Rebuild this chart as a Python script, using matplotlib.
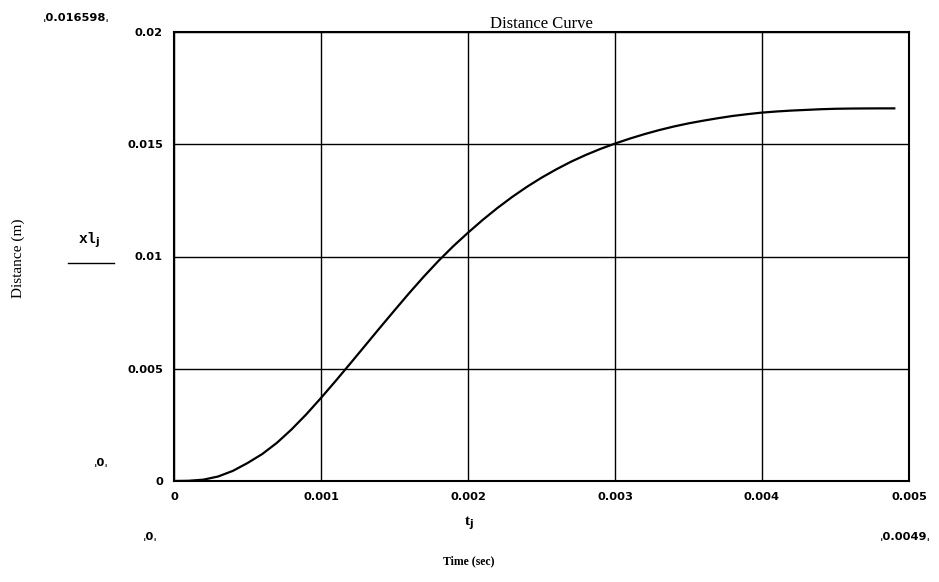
import numpy as np
import matplotlib.pyplot as plt

# time (sec) and distance (m)
t = [0, 0.0001, 0.0002, 0.0003, 0.0004, 0.0005, 0.0006, 0.0007, 0.0008, 0.0009,
     0.001, 0.0011, 0.0012, 0.0013, 0.0014, 0.0015, 0.0016, 0.0017, 0.0018, 0.0019,
     0.002, 0.0021, 0.0022, 0.0023, 0.0024, 0.0025, 0.0026, 0.0027, 0.0028, 0.0029,
     0.003, 0.0031, 0.0032, 0.0033, 0.0034, 0.0035, 0.0036, 0.0037, 0.0038, 0.0039,
     0.004, 0.0041, 0.0042, 0.0043, 0.0044, 0.0045, 0.0046, 0.0047, 0.0048, 0.0049]
xl = [0, 0.00001, 0.00006, 0.0002, 0.00045, 0.0008, 0.0012, 0.0017, 0.0023, 0.00297,
      0.0037, 0.00446, 0.00524, 0.00603, 0.00682, 0.0076, 0.00837, 0.00911, 0.00981, 0.01046,
      0.01106, 0.01163, 0.01216, 0.01265, 0.0131, 0.01351, 0.01388, 0.01422, 0.01452, 0.01479,
      0.01503, 0.01525, 0.01545, 0.01563, 0.01579, 0.01593, 0.01605, 0.01616, 0.01626, 0.01634,
      0.01641, 0.01646, 0.0165, 0.01653, 0.01656, 0.01658, 0.01659, 0.016595, 0.016598, 0.016598]
xticks = [0, 0.001, 0.002, 0.003, 0.004, 0.005]
xticklabels = ['0', '0.001', '0.002', '0.003', '0.004', '0.005']
yticks = [0, 0.005, 0.01, 0.015, 0.02]
yticklabels = ['0', '0.005', '0.01', '0.015', '0.02']

fig = plt.figure(figsize=(9.39, 5.82), dpi=100)
ax = fig.add_axes([174/939, 101/582, 735/939, 449/582])
ax.plot(t, xl, color='black', lw=1.6)
ax.set_xlim(0, 0.005)
ax.set_ylim(0, 0.02)
ax.set_xticks(xticks)
ax.set_xticklabels(xticklabels)
ax.set_yticks(yticks)
ax.set_yticklabels(yticklabels)
ax.grid(True, color='black', lw=1.0)
ax.tick_params(length=0, pad=8, labelsize=8.2)
for lab in ax.get_xticklabels() + ax.get_yticklabels():
    lab.set_fontweight('bold')
for s in ax.spines.values():
    s.set_linewidth(1.5)
ax.set_title('Distance Curve', family='Liberation Serif', fontsize=12, pad=3)

bold = dict(fontsize=8.2, fontweight='bold')
fig.text(76/939, 1 - 18/582, 'ˌ0.016598ˌ', ha='center', va='center', **bold)
fig.text(101/939, 1 - 463/582, 'ˌ0ˌ', ha='center', va='center', **bold)
fig.text(150/939, 1 - 537/582, 'ˌ0ˌ', ha='center', va='center', **bold)
fig.text(905/939, 1 - 537/582, 'ˌ0.0049ˌ', ha='center', va='center', **bold)

fig.text(89/939, 1 - 240/582, 'xl$_{\\mathbf{j}}$', ha='center', va='center',
         family='Liberation Mono', fontsize=10.5, fontweight='bold')
fig.add_artist(plt.Line2D([68/939, 114/939], [1 - 263/582, 1 - 263/582],
                          color='black', lw=1.0))
fig.text(18/939, 1 - 258/582, 'Distance (m)', rotation=90, ha='center',
         va='center', family='Liberation Serif', fontsize=11)
fig.text(469/939, 1 - 523/582, 't$_{\\mathbf{j}}$', ha='center', va='center',
         family='Liberation Serif', fontsize=11, fontweight='bold')
fig.text(469/939, 1 - 561/582, 'Time (sec)', ha='center', va='center',
         family='Liberation Serif', fontsize=8.5, fontweight='bold')

fig.savefig('out.png', dpi=100)
